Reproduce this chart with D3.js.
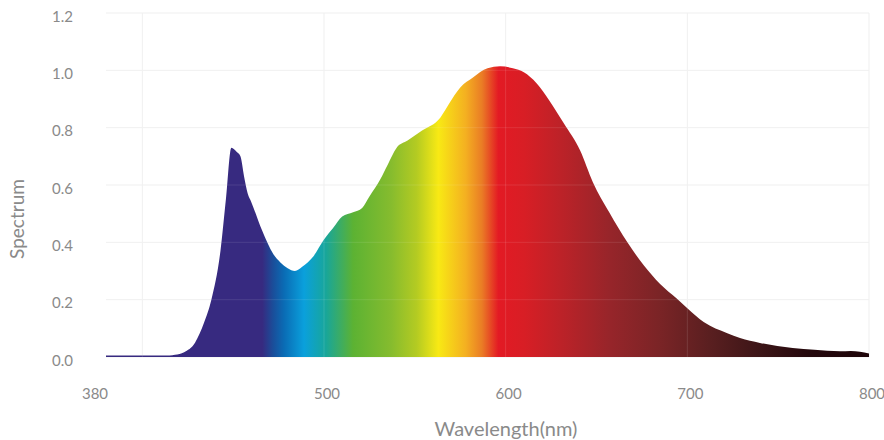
<!DOCTYPE html>
<html>
<head>
<meta charset="utf-8">
<script src="https://cdn.jsdelivr.net/npm/d3@7"></script>
<style>
 body { margin: 0; background: #fff; }
 svg { display: block; }
 .tick-label { font-family: Lato, "Open Sans", sans-serif; font-size: 15px; fill: #8a8a8a; }
 .axis-title { font-family: Lato, "Open Sans", sans-serif; font-size: 20px; fill: #8a8a8a; }
</style>
</head>
<body>
<svg id="chart" width="884" height="440"></svg>
<script>
// spectrum (wavelength nm, relative value)
var wavelength = [380, 400, 415, 418, 423, 429, 434, 438, 443, 446, 449, 452, 454, 456, 458, 460,
                  466, 472, 476, 480, 484, 488, 494, 500, 505, 510, 516, 521, 525, 531, 535, 540,
                  546, 554, 564, 569, 575, 582, 590, 597, 604, 610, 617, 624, 632, 641, 648, 657,
                  667, 676, 685, 694, 700, 709, 722, 729, 740, 758, 770, 784, 790, 795, 800];
var spectrum   = [0.005, 0.005, 0.005, 0.008, 0.017, 0.05, 0.12, 0.2, 0.37, 0.55, 0.73, 0.715, 0.70, 0.63, 0.57, 0.54,
                  0.44, 0.36, 0.33, 0.31, 0.30, 0.315, 0.35, 0.41, 0.45, 0.49, 0.505, 0.52, 0.56, 0.62, 0.67, 0.73,
                  0.755, 0.79, 0.835, 0.885, 0.94, 0.975, 1.007, 1.014, 1.007, 0.993, 0.955, 0.895, 0.815, 0.72, 0.61, 0.505,
                  0.40, 0.32, 0.255, 0.205, 0.17, 0.122, 0.083, 0.066, 0.049, 0.031, 0.025, 0.02, 0.021, 0.018, 0.012];

var xTicks = [380, 500, 600, 700, 800];
var xGrid  = [400, 500, 600, 700, 800];
var yTicks = [0, 0.2, 0.4, 0.6, 0.8, 1.0, 1.2];

// colour of the fill along the wavelength axis
var stopNm  = [380, 466, 472, 478, 489, 501, 516, 537, 551, 563, 578, 587, 596, 610, 630, 657, 685, 712, 740, 767, 800];
var stopCol = ["#372a80", "#372a80", "#1a4e9a", "#0a6cb5", "#0aa0dc", "#18a69a", "#5cb233", "#86bc2e", "#b4cb22",
               "#f8e914", "#f4b021", "#ea7c25", "#e31a24", "#d81e25", "#bd2228", "#97252a", "#7a2426", "#5a1f20",
               "#3c1517", "#24080c", "#1e0509"];

var svg = d3.select("#chart");
var x = d3.scaleLinear().domain([380, 800]).range([106, 869]);
var y = d3.scaleLinear().domain([0, 1.2]).range([357, 13]);

var defs = svg.append("defs");
var grad = defs.append("linearGradient")
    .attr("id", "spec")
    .attr("gradientUnits", "userSpaceOnUse")
    .attr("x1", x(380)).attr("x2", x(800)).attr("y1", 0).attr("y2", 0);
stopNm.forEach(function(n, i){
    grad.append("stop")
        .attr("offset", (n - 380) / 420)
        .attr("stop-color", stopCol[i]);
});

// grid under the fill
var grid = svg.append("g");
grid.selectAll(".hg").data(yTicks).enter().append("line")
    .attr("x1", x(380)).attr("x2", x(800))
    .attr("y1", function(d){ return y(d); }).attr("y2", function(d){ return y(d); })
    .attr("stroke", "#efefef").attr("stroke-width", 1);
grid.selectAll(".vg").data(xGrid).enter().append("line")
    .attr("x1", function(d){ return x(d); }).attr("x2", function(d){ return x(d); })
    .attr("y1", y(1.2)).attr("y2", y(0))
    .attr("stroke", "#efefef").attr("stroke-width", 1);

var pts = wavelength.map(function(w, i){ return [w, spectrum[i]]; });
var area = d3.area()
    .x(function(d){ return x(d[0]); })
    .y0(y(0))
    .y1(function(d){ return y(d[1]); })
    .curve(d3.curveMonotoneX);

svg.append("path")
    .datum(pts)
    .attr("d", area)
    .attr("fill", "url(#spec)");

// grid shows faintly through the fill
var grid2 = svg.append("g");
grid2.selectAll(".hg").data(yTicks.slice(1)).enter().append("line")
    .attr("x1", x(380)).attr("x2", x(800))
    .attr("y1", function(d){ return y(d); }).attr("y2", function(d){ return y(d); })
    .attr("stroke", "#ffffff").attr("stroke-opacity", 0.1);
grid2.selectAll(".vg").data(xGrid.slice(0, 4)).enter().append("line")
    .attr("x1", function(d){ return x(d); }).attr("x2", function(d){ return x(d); })
    .attr("y1", y(1.2)).attr("y2", y(0))
    .attr("stroke", "#ffffff").attr("stroke-opacity", 0.12);

// y tick labels
svg.append("g").selectAll("text").data(yTicks).enter().append("text")
    .attr("class", "tick-label")
    .attr("x", 73)
    .attr("y", function(d){ return y(d) + 5; })
    .attr("text-anchor", "end")
    .attr("dominant-baseline", "middle")
    .text(function(d){ return d3.format(".1f")(d); });

// x tick labels
svg.append("g").selectAll("text").data(xTicks).enter().append("text")
    .attr("class", "tick-label")
    .attr("x", function(d){ return d === 380 ? x(d) - 11 : x(d) + 3; })
    .attr("y", 395)
    .attr("text-anchor", "middle")
    .attr("dominant-baseline", "middle")
    .text(function(d){ return d; });

svg.append("text")
    .attr("class", "axis-title")
    .attr("x", 506).attr("y", 436)
    .attr("text-anchor", "middle")
    .text("Wavelength(nm)");

svg.append("text")
    .attr("class", "axis-title")
    .attr("transform", "translate(24,219) rotate(-90)")
    .attr("text-anchor", "middle")
    .style("font-size", "19px")
    .text("Spectrum");
</script>
</body>
</html>
